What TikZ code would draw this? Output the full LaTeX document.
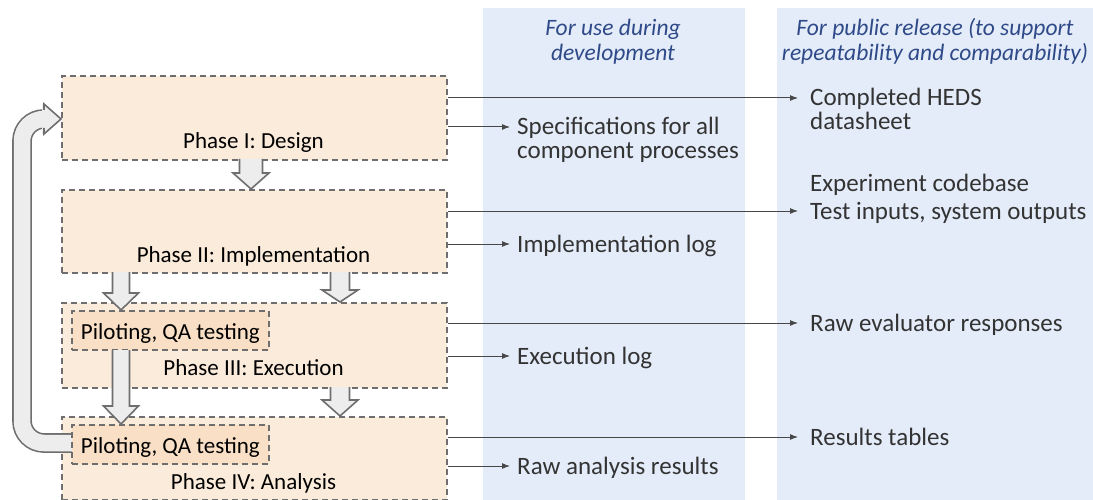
\documentclass[tikz,border=0pt]{standalone}
\usepackage{fontspec}
\setmainfont{Carlito}
\usetikzlibrary{calc,arrows.meta}
\definecolor{peach}{HTML}{FBEBDB}
\definecolor{peachdk}{HTML}{F9DFC5}
\definecolor{colblue}{HTML}{E4ECF9}
\definecolor{headblue}{HTML}{2F4A88}
\definecolor{edgegray}{HTML}{6E6E6E}
\definecolor{txt}{HTML}{333333}
\definecolor{blockfill}{HTML}{EDEDED}

% hollow downward block arrow: x, top, head start, tip, shaft half width, head half width
\newcommand\blockdown[6]{%
  \fill[blockfill] (#1-#5,#2) -- (#1-#5,#3) -- (#1-#6,#3) -- (#1,#4) -- (#1+#6,#3) -- (#1+#5,#3) -- (#1+#5,#2) -- cycle;
  \draw[blockedge] (#1-#5,#2) -- (#1-#5,#3) -- (#1-#6,#3) -- (#1,#4) -- (#1+#6,#3) -- (#1+#5,#3) -- (#1+#5,#2);}

\begin{document}
\begin{tikzpicture}[x=1pt,y=-1pt,
  every node/.style={text=txt},
  column/.style={fill=colblue, draw=none, inner sep=0, anchor=north west},
  phase/.style={draw=edgegray, fill=peach, dash pattern=on 6pt off 4pt, line width=1.8pt, inner sep=0, anchor=north west},
  pilot/.style={draw=edgegray, fill=peachdk, dash pattern=on 6pt off 4pt, line width=1.8pt, inner sep=0, anchor=north west},
  label/.style={font=\fontsize{23}{26}\selectfont, text=black, inner sep=0, text height=18pt, text depth=1pt},
  header/.style={font=\fontsize{23.5}{25}\selectfont\itshape, text=headblue, align=center, inner sep=0},
  outtxt/.style={font=\fontsize{25}{26}\selectfont, anchor=west, inner ysep=0, text height=19pt, text depth=3pt},
  rtxt/.style={outtxt, inner xsep=12pt},
  ltxt/.style={outtxt, inner xsep=7pt},
  conn/.style={draw=txt!90, line width=1pt, -{Latex[length=8pt,width=6pt]}},
  blockedge/.style={draw=edgegray, line width=1.6pt, line join=miter},
]
\useasboundingbox (0,0) rectangle (1093,500);

% output columns
\node[column, minimum width=262pt, minimum height=492pt] (devcol) at (483,8) {};
\node[column, minimum width=316pt, minimum height=492pt] (pubcol) at (777,8) {};
\node[header] (devhead) at (613,41.5) {For use during\\development};
\node[header] (pubhead) at (935,41.5) {For public release (to support\\repeatability and comparability)};

% phases
\node[phase, minimum width=385pt, minimum height=84pt] (p1) at (61,75) {};
\node[phase, minimum width=385pt, minimum height=83pt] (p2) at (61,189) {};
\node[phase, minimum width=385pt, minimum height=85pt] (p3) at (61,302) {};
\node[phase, minimum width=385pt, minimum height=83pt] (p4) at (61,416) {};

\node[label] (l1) at (253.5,140) {Phase I: Design};
\node[label] (l2) at (253.5,254) {Phase II: Implementation};
\node[label] (l3) at (253.5,367) {Phase III: Execution};
\node[label] (l4) at (253.5,481) {Phase IV: Analysis};

% loop back from the second piloting step to the design phase
\draw[edgegray, line width=1.6pt, double=blockfill, double distance=16.5pt, rounded corners=22pt]
  (72,443) -- (22,443) -- (22,119) -- (45,119);
\fill[blockfill] (42,104) -- (44,104) -- (61,119) -- (44,134) -- (42,134) -- cycle;
\draw[blockedge] (44,110) -- (44,104) -- (61,119) -- (44,134) -- (44,128);

% piloting sub-steps
\node[pilot, minimum width=197pt, minimum height=39pt] (q3) at (71,310) {};
\node[pilot, minimum width=197pt, minimum height=39pt] (q4) at (71,424) {};
\node[label] at ([yshift=-0.5pt]q3.center) {Piloting, QA testing};
\node[label] at ([yshift=-0.5pt]q4.center) {Piloting, QA testing};

% flow between phases
\blockdown{251}{159}{173}{189}{11.5}{18}
\blockdown{121}{272}{293}{310}{8.5}{17.5}
\blockdown{340}{272}{290}{302}{9.5}{18}
\blockdown{121}{350}{406}{424}{8.5}{17.5}
\blockdown{340}{387}{400}{416}{9.5}{18}

% outputs
\node[rtxt] (heds) at (798,98) {Completed HEDS};
\node[rtxt] (heds2) at (798,122) {datasheet};
\node[ltxt] (spec) at (510,127) {Specifications for all};
\node[ltxt] (spec2) at (510,151) {component processes};
\node[rtxt] (code) at (798,184) {Experiment codebase};
\node[rtxt] (tio) at (798,211) {Test inputs, system outputs};
\node[ltxt] (impl) at (510,244) {Implementation log};
\node[rtxt] (raw) at (798,323) {Raw evaluator responses};
\node[ltxt] (exec) at (510,356) {Execution log};
\node[rtxt] (res) at (798,437) {Results tables};
\node[ltxt] (ana) at (510,466) {Raw analysis results};

\draw[conn] (p1.east |- heds.west) -- (heds.west);
\draw[conn] (p1.east |- spec.west) -- (spec.west);
\draw[conn] (p2.east |- tio.west) -- (tio.west);
\draw[conn] (p2.east |- impl.west) -- (impl.west);
\draw[conn] (p3.east |- raw.west) -- (raw.west);
\draw[conn] (p3.east |- exec.west) -- (exec.west);
\draw[conn] (p4.east |- res.west) -- (res.west);
\draw[conn] (p4.east |- ana.west) -- (ana.west);
\end{tikzpicture}
\end{document}
